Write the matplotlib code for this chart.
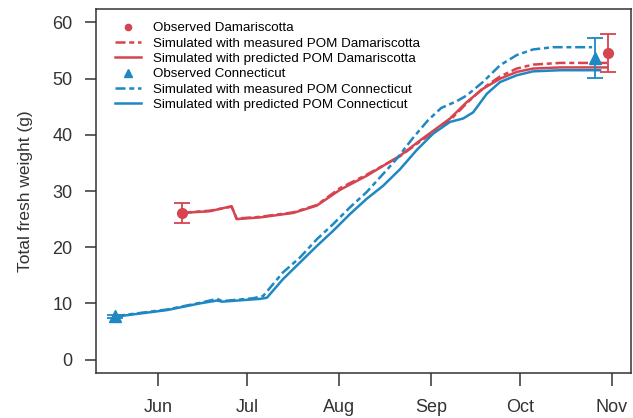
import numpy as np
import matplotlib
matplotlib.use("Agg")
import matplotlib.pyplot as plt
from matplotlib.lines import Line2D

plt.rcParams['font.family'] = ['Liberation Sans', 'DejaVu Sans']

red = '#d6444f'
blue = '#1f88c2'

# day of year for month ticks
month_days = [152, 182, 213, 244, 274, 305]
month_labels = ['Jun', 'Jul', 'Aug', 'Sep', 'Oct', 'Nov']

# observations (day of year, mean, sd)
obs_dam_day = [160.0, 303.8]
obs_dam_val = [26.1, 54.6]
obs_dam_err = [1.8, 3.4]
obs_con_day = [137.5, 299.3]
obs_con_val = [7.7, 53.7]
obs_con_err = [0.3, 3.6]

# simulated Damariscotta
dam_pred_day = [160.0, 169.5, 176.8, 178.5, 186.4, 197.6, 205.5, 213.3, 222.3, 233.6,
                240.3, 250.4, 256.0, 261.5, 267.3, 272.9, 278.4, 287.5, 303.3]
dam_pred_val = [26.1, 26.4, 27.3, 25.0, 25.3, 26.1, 27.4, 30.2, 32.7, 36.3,
                39.0, 42.9, 45.8, 48.2, 50.0, 51.2, 51.8, 52.0, 52.0]
dam_meas_day = [160.0, 169.5, 176.8, 178.5, 186.4, 197.6, 205.5, 213.3, 222.3, 233.6,
                240.3, 250.4, 256.0, 261.5, 267.3, 272.9, 278.4, 287.5, 303.3]
dam_meas_val = [26.1, 26.5, 27.2, 25.1, 25.4, 26.2, 27.5, 30.5, 32.9, 36.2,
                38.8, 42.6, 45.6, 48.3, 50.4, 51.8, 52.5, 52.8, 52.8]

# simulated Connecticut
con_pred_day = [137.5, 140.2, 155.0, 166.2, 171.9, 173.6, 186.4, 188.7, 194.1, 199.9,
                205.5, 211.0, 216.7, 222.3, 227.8, 233.6, 239.2, 244.7, 250.4, 254.8,
                258.2, 262.8, 267.3, 272.9, 278.4, 287.5, 301.0]
con_pred_val = [7.7, 7.8, 8.8, 10.0, 10.5, 10.3, 10.8, 11.0, 14.3, 17.3,
                20.2, 22.9, 25.9, 28.6, 30.9, 33.9, 37.3, 40.2, 42.3, 42.9,
                44.0, 47.3, 49.4, 50.6, 51.3, 51.5, 51.5]
con_meas_day = [137.5, 140.2, 155.0, 166.2, 171.9, 173.6, 184.0, 187.4, 194.1, 199.9,
                205.5, 211.0, 216.7, 222.3, 227.8, 232.4, 238.0, 243.0, 247.5, 252.7,
                256.0, 261.5, 267.3, 272.9, 278.4, 285.1, 298.3]
con_meas_val = [7.7, 7.9, 8.9, 10.1, 10.8, 10.4, 10.9, 11.3, 15.5, 18.2,
                21.4, 24.1, 27.1, 29.8, 33.0, 35.7, 39.5, 42.6, 44.8, 46.0,
                47.0, 49.4, 52.4, 54.2, 55.2, 55.6, 55.6]

fig = plt.figure(figsize=(6.33, 4.18), dpi=100)
ax = fig.add_axes([96 / 633, 45 / 418, 535 / 633, 364 / 418])

lw = 1.8
ax.plot(dam_meas_day, dam_meas_val, color=red, lw=lw, dashes=(4, 1.5, 2, 1.5),
        label='Simulated with measured POM Damariscotta')
ax.plot(dam_pred_day, dam_pred_val, color=red, lw=lw,
        label='Simulated with predicted POM Damariscotta')
ax.plot(con_meas_day, con_meas_val, color=blue, lw=lw, dashes=(4, 1.5, 2, 1.5),
        label='Simulated with measured POM Connecticut')
ax.plot(con_pred_day, con_pred_val, color=blue, lw=lw,
        label='Simulated with predicted POM Connecticut')

ax.errorbar(obs_dam_day, obs_dam_val, yerr=obs_dam_err, fmt='o', color=red,
            ms=7, capsize=5.5, elinewidth=1.3, capthick=1.3, label='Observed Damariscotta')
ax.errorbar(obs_con_day, obs_con_val, yerr=obs_con_err, fmt='^', color=blue,
            ms=8, capsize=5.5, elinewidth=1.3, capthick=1.3, label='Observed Connecticut')

ax.set_xlim(131.1, 311.4)
ax.set_ylim(-2.4, 62.4)
ax.set_xticks(month_days)
ax.set_xticklabels(month_labels)
ax.set_yticks([0, 10, 20, 30, 40, 50, 60])
ax.tick_params(axis='x', length=9.5, width=1.1, pad=9, labelsize=13, colors='#333333')
ax.tick_params(axis='y', length=8, width=1.1, pad=9, labelsize=13, colors='#333333')
for s in ax.spines.values():
    s.set_linewidth(1.1)
    s.set_color('#333333')
ax.set_ylabel('Total fresh weight (g)', fontsize=12.5, color='#333333', labelpad=14)

h, l = ax.get_legend_handles_labels()
handles = [
    Line2D([], [], color=red, marker='o', ls='none', ms=4.5),
    h[0], h[1],
    Line2D([], [], color=blue, marker='^', ls='none', ms=5.5),
    h[2], h[3],
]
labels = [l[4], l[0], l[1], l[5], l[2], l[3]]
ax.legend(handles, labels, loc='upper left', bbox_to_anchor=(0.035, 0.964),
          frameon=False, fontsize=9.6, handlelength=2.0, handletextpad=0.85,
          labelspacing=0.22, borderpad=0, borderaxespad=0)

fig.savefig('out.png', dpi=100)
